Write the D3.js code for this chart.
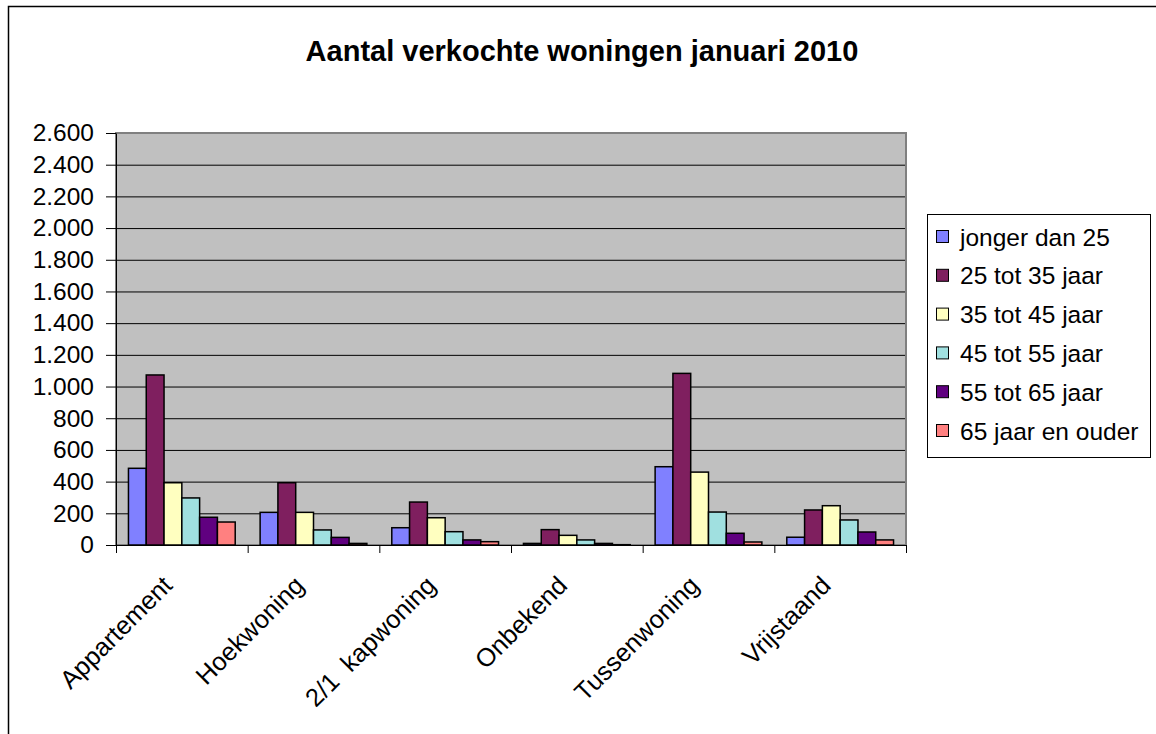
<!DOCTYPE html>
<html>
<head>
<meta charset="utf-8">
<script src="https://cdn.jsdelivr.net/npm/d3@7"></script>
<style>
  body { margin: 0; background: #fff; }
  text { font-family: Arial, "Liberation Sans", sans-serif; fill: #000; }
</style>
</head>
<body>
<svg id="chart" width="1156" height="734"></svg>
<script>
const title = "Aantal verkochte woningen januari 2010";

const categories = ["Appartement", "Hoekwoning", "2/1  kapwoning", "Onbekend", "Tussenwoning", "Vrijstaand"];

const series = ["jonger dan 25", "25 tot 35 jaar", "35 tot 45 jaar", "45 tot 55 jaar", "55 tot 65 jaar", "65 jaar en ouder"];

const colors = ["#8080ff", "#7f1f5f", "#ffffc0", "#a0e0e0", "#600080", "#ff8080"];

// values per series, in category order
const jonger25 = [484, 206, 109, 10, 494, 49];
const tot35 = [1073, 393, 271, 97, 1083, 221];
const tot45 = [393, 206, 172, 61, 460, 248];
const tot55 = [297, 95, 84, 32, 208, 158];
const tot65 = [175, 48, 32, 10, 74, 82];
const ouder65 = [145, 10, 21, 2, 19, 32];

const values = [jonger25, tot35, tot45, tot55, tot65, ouder65];

const yTicks = [0, 200, 400, 600, 800, 1000, 1200, 1400, 1600, 1800, 2000, 2200, 2400, 2600];

const svg = d3.select("#chart");

const plot = { left: 116, right: 906, top: 133, bottom: 545 };
const fontSize = "24.5px";

const nl = d3.formatLocale({ decimal: ",", thousands: ".", grouping: [3], currency: ["€", ""] });
const fmt = nl.format(",");

// outer frame
svg.append("rect")
    .attr("x", 8.5).attr("y", 6.5)
    .attr("width", 1160).attr("height", 740)
    .attr("fill", "none")
    .attr("stroke", "#000")
    .attr("stroke-width", 1.5)

svg.append("text")
    .attr("x", 582)
    .attr("y", 61)
    .attr("text-anchor", "middle")
    .style("font-size", "29px")
    .style("font-weight", "bold")
    .text(title)

let x0 = d3.scaleBand()
    .domain(categories)
    .range([plot.left, plot.right])

let x1 = d3.scaleBand()
    .domain(series)
    .range([0, x0.bandwidth()])
    .paddingOuter(0.7)

let y = d3.scaleLinear()
    .domain([0, 2600])
    .range([plot.bottom, plot.top])

// plot background
svg.append("rect")
    .attr("x", plot.left).attr("y", plot.top)
    .attr("width", plot.right - plot.left)
    .attr("height", plot.bottom - plot.top)
    .attr("fill", "#c0c0c0")

// gridlines
svg.append("g")
    .selectAll("line")
    .data(yTicks.slice(1))
    .enter()
    .append("line")
    .attr("x1", plot.left).attr("x2", plot.right)
    .attr("y1", d => y(d) + 0.5).attr("y2", d => y(d) + 0.5)
    .attr("stroke", "#000")
    .attr("stroke-width", 1)

svg.append("rect")
    .attr("x", plot.left).attr("y", plot.top)
    .attr("width", plot.right - plot.left)
    .attr("height", plot.bottom - plot.top)
    .attr("fill", "none")
    .attr("stroke", "#808080")
    .attr("stroke-width", 2)

// bars
let groups = svg.append("g")
    .selectAll("g")
    .data(series)
    .enter()
    .append("g")
    .attr("fill", (s, i) => colors[i])

groups.selectAll("rect")
    .data((s, i) => values[i].map((v, j) => ({ cat: categories[j], s: s, v: v })))
    .enter()
    .append("rect")
    .attr("x", d => x0(d.cat) + x1(d.s))
    .attr("y", d => y(d.v))
    .attr("width", x1.bandwidth())
    .attr("height", d => y(0) - y(d.v))
    .attr("stroke", "#000")
    .attr("stroke-width", 1.5)

// y axis
let yAxis = d3.axisLeft(y)
    .tickValues(yTicks)
    .tickFormat(fmt)
    .tickSizeInner(10)
    .tickSizeOuter(0)
    .tickPadding(12)

let gy = svg.append("g")
    .attr("transform", `translate(${plot.left},0)`)
    .call(yAxis)

gy.select(".domain").attr("stroke", "#000")
gy.selectAll("text")
    .style("font-size", fontSize)
    .style("font-family", "Arial, 'Liberation Sans', sans-serif")
    .attr("fill", "#000")

// x axis
let xAxis = d3.axisBottom(x0)
    .tickSize(0)
    .tickFormat("")

let gx = svg.append("g")
    .attr("transform", `translate(0,${plot.bottom})`)
    .call(xAxis)

gx.select(".domain").attr("stroke", "#000")

gx.selectAll(".sep")
    .data(d3.range(categories.length + 1))
    .enter()
    .append("line")
    .attr("class", "sep")
    .attr("x1", i => plot.left + i * x0.step() + 0.5)
    .attr("x2", i => plot.left + i * x0.step() + 0.5)
    .attr("y1", 0).attr("y2", 8)
    .attr("stroke", "#000")

gx.selectAll(".lbl")
    .data(categories)
    .enter()
    .append("text")
    .attr("class", "lbl")
    .attr("text-anchor", "end")
    .attr("transform", c => `translate(${x0(c) + x0.bandwidth() / 2 - 8},${42}) rotate(-45)`)
    .style("font-size", "25.5px")
    .style("white-space", "pre")
    .text(c => c)

// legend
let legend = svg.append("g")
    .attr("transform", "translate(927,214)")

legend.append("rect")
    .attr("x", 0.5).attr("y", 0.5)
    .attr("width", 223).attr("height", 243)
    .attr("fill", "#fff")
    .attr("stroke", "#000")

let items = legend.selectAll(".item")
    .data(series)
    .enter()
    .append("g")
    .attr("class", "item")
    .attr("transform", (s, i) => `translate(0,${23 + i * 38.8})`)

items.append("rect")
    .attr("x", 9.5).attr("y", -6.5)
    .attr("width", 12).attr("height", 12)
    .attr("fill", (s, i) => colors[i])
    .attr("stroke", "#000")

items.append("text")
    .attr("x", 33)
    .attr("y", 8.5)
    .style("font-size", fontSize)
    .text(s => s)
</script>
</body>
</html>
